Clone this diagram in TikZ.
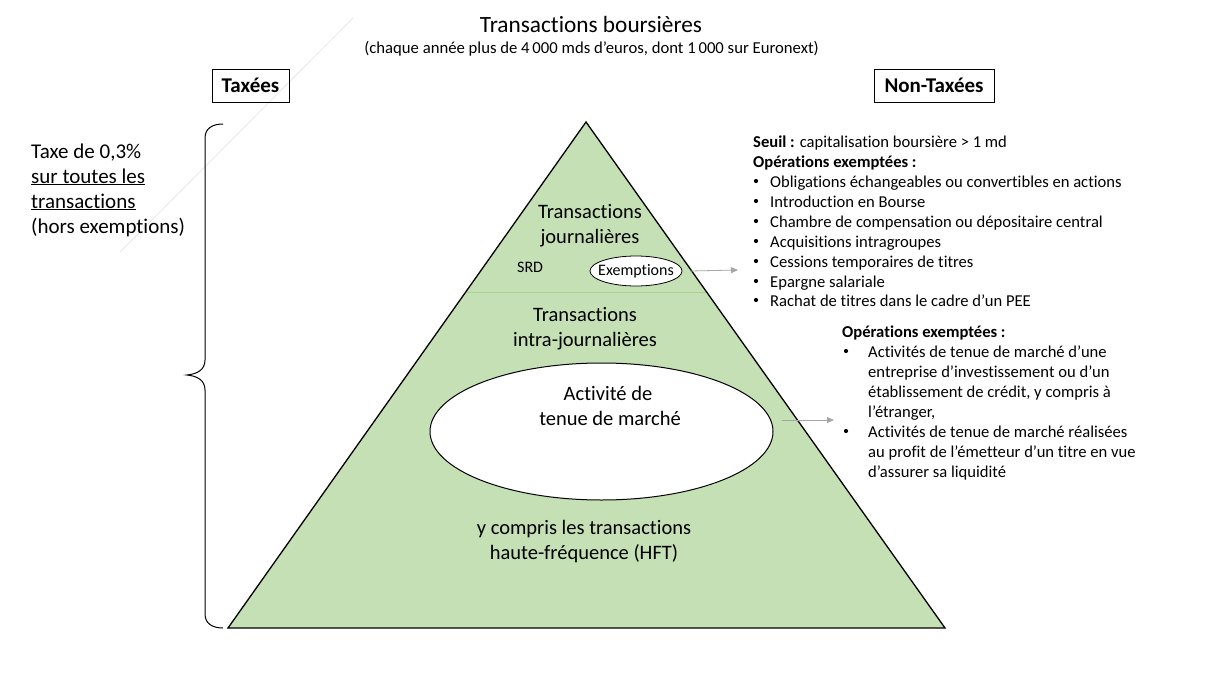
\documentclass[tikz,border=0pt]{standalone}
\usepackage{fontspec}
\setmainfont{Carlito}[Ligatures=NoCommon]
\usetikzlibrary{arrows.meta,shapes.geometric}
\definecolor{trifill}{HTML}{C5E0B4}
\definecolor{divline}{HTML}{A9D18E}
\definecolor{arrgray}{HTML}{A6A6A6}
\begin{document}
\begin{tikzpicture}[x=1pt,y=-1pt,
  txt/.style={inner sep=0pt, anchor=base},
  ltxt/.style={inner sep=0pt, anchor=base west},
  titlefont/.style={font=\fontsize{23.3}{28}\selectfont},
  subfont/.style={font=\fontsize{16.7}{20}\selectfont},
  boxlabel/.style={draw=black, line width=0.9pt, inner sep=0pt, minimum height=33pt, font=\bfseries\fontsize{21}{25}\selectfont},
  bigfont/.style={font=\fontsize{21}{25}\selectfont},
  trifont/.style={font=\fontsize{20.5}{25}\selectfont},
  smallfont/.style={font=\fontsize{16}{19}\selectfont},
  listfont/.style={font=\fontsize{16.6}{20}\selectfont},
  bul/.style={circle, fill=black, inner sep=0pt, minimum size=4.2pt},
  grayarrow/.style={draw=arrgray, line width=0.8pt, -{Triangle[length=7pt,width=6pt]}},
]
\useasboundingbox (0,0) rectangle (1210,685);
\fill[white] (0,0) rectangle (1210,685);

% faint diagonal artifact
\draw[black!9, line width=0.8pt] (353,18) -- (120,252);

% titles
\node[txt, titlefont] (title) at (591,33) {Transactions boursières};
\node[txt, subfont] (subtitle) at (591.5,54) {(chaque année plus de 4\,000 mds d’euros, dont 1\,000 sur Euronext)};

% boxes
\node[boxlabel, minimum width=77pt] (taxees) at (250.5,85.5) {Taxées};
\node[boxlabel, minimum width=120pt] (nontaxees) at (934,85.5) {Non-Taxées};

% left text
\node[ltxt, bigfont] (l1) at (31,158) {Taxe de 0,3\%};
\node[ltxt, bigfont] (l2) at (31,183) {\underline{sur toutes les}};
\node[ltxt, bigfont] (l3) at (31,208) {\underline{transactions}};
\node[ltxt, bigfont] (l4) at (31,233) {(hors exemptions)};

% brace
\draw[black, line width=1pt]
  (223,124) .. controls (213,124) and (205,128) .. (205,138)
  -- (205,360)
  .. controls (205,370) and (197,374) .. (187,375)
  .. controls (197,376) and (205,380) .. (205,390)
  -- (205,614)
  .. controls (205,624) and (213,628) .. (223,628);

% triangle
\coordinate (apex) at (586,122);
\coordinate (bl) at (228,628);
\coordinate (br) at (945,628);
\fill[trifill] (apex) -- (bl) -- (br) -- cycle;
\coordinate (dl) at (465.7,292);
\coordinate (dr) at (706.6,292);
\draw[divline, line width=1pt] (dl) -- (dr);
\draw[black, line width=1.3pt, line join=miter] (apex) -- (bl) -- (br) -- cycle;

% triangle texts
\node[txt, trifont] (t1) at (590,218) {Transactions};
\node[txt, trifont] (t2) at (590,243) {journalières};
\node[ltxt, smallfont] (srd) at (517,272) {SRD};
\node[ellipse, draw=black, fill=white, line width=0.8pt, minimum width=92pt, minimum height=30pt, inner sep=0pt] (exe) at (636,271) {};
\node[smallfont, inner sep=0pt] (exetxt) at (exe.center) {Exemptions};
\node[txt, trifont] (t3) at (585,321) {Transactions};
\node[txt, trifont] (t4) at (585,346) {intra-journalières};

\node[ellipse, draw=black, fill=white, line width=1pt, minimum width=343pt, minimum height=137pt, inner sep=0pt] (mm) at (601.5,431.5) {};
\node[txt, trifont] (m1) at (608,400) {Activité de};
\node[txt, trifont] (m2) at (610,425) {tenue de marché};

\node[txt, trifont] (h1) at (584,534) {y compris les transactions};
\node[txt, trifont] (h2) at (584,559) {haute-fréquence (HFT)};

% arrows
\coordinate (a1end) at (738,270);
\draw[grayarrow] ([xshift=8pt]exe.east) -- (a1end);
\coordinate (a2start) at (782,420);
\coordinate (a2end) at (834,420);
\draw[grayarrow] (a2start) -- (a2end);

% right list 1
\node[ltxt, listfont] (s0) at (753,147) {\textbf{Seuil :} capitalisation boursière > 1 md};
\node[ltxt, listfont] (s1) at (753,167) {\textbf{Opérations exemptées :}};
\foreach \y/\t [count=\i] in {187/Obligations échangeables ou convertibles en actions,
  207/Introduction en Bourse,
  227/Chambre de compensation ou dépositaire central,
  247/Acquisitions intragroupes,
  267/Cessions temporaires de titres,
  287/Epargne salariale,
  306/Rachat de titres dans le cadre d’un PEE}{
  \node[bul] (bu\i) at (756,\y-6) {};
  \node[ltxt, listfont] (it\i) at (770,\y) {\t};
}

% right list 2
\node[ltxt, listfont] (o0) at (842,337) {\textbf{Opérations exemptées :}};
\node[bul] (ob1) at (846,351) {};
\node[ltxt, listfont] (o1) at (868,357) {Activités de tenue de marché d’une};
\node[ltxt, listfont] (o2) at (868,377) {entreprise d’investissement ou d’un};
\node[ltxt, listfont] (o3) at (868,397) {établissement de crédit, y compris à};
\node[ltxt, listfont] (o4) at (868,417) {l’étranger,};
\node[bul] (ob2) at (846,431) {};
\node[ltxt, listfont] (o5) at (868,437) {Activités de tenue de marché réalisées};
\node[ltxt, listfont] (o6) at (868,457) {au profit de l’émetteur d’un titre en vue};
\node[ltxt, listfont] (o7) at (868,477) {d’assurer sa liquidité};
\end{tikzpicture}
\end{document}
